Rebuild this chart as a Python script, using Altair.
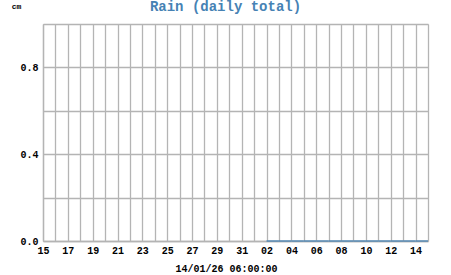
import altair as alt
import pandas as pd

# Domain: 15 Dec 2025 .. 15 Jan 2026 (daily)
domain_start = "2025-12-15"
domain_end = "2026-01-15"
grid_days = pd.date_range(domain_start, domain_end, freq="D").strftime("%Y-%m-%d").tolist()

# Rain observations (cm) available for these days
rain_days = ["2026-01-02", "2026-01-03", "2026-01-04", "2026-01-05", "2026-01-06",
             "2026-01-07", "2026-01-08", "2026-01-09", "2026-01-10", "2026-01-11",
             "2026-01-12", "2026-01-13", "2026-01-14"]
rain_ends = ["2026-01-03", "2026-01-04", "2026-01-05", "2026-01-06", "2026-01-07",
             "2026-01-08", "2026-01-09", "2026-01-10", "2026-01-11", "2026-01-12",
             "2026-01-13", "2026-01-14", "2026-01-15"]
rain_cm = [0, 0, 0, 0, 0, 0, 0, 0, 0, 0, 0, 0, 0]

y_ticks = [0, 0.2, 0.4, 0.6, 0.8, 1.0]
y_labelled = [0, 0.4, 0.8]

df = pd.DataFrame({"day": rain_days, "end": rain_ends, "rain": rain_cm})

FONT = "Liberation Mono"
GRID = "#b4b4b4"

x_enc = alt.X(
    "day:T",
    scale=alt.Scale(type="utc", domain=[domain_start, domain_end]),
    axis=alt.Axis(
        values=grid_days,
        labelExpr="((datum.value - datetime(2025,11,15)) / 86400000) % 2 < 0.5 && datum.value < datetime(2026,0,15) ? utcFormat(datum.value, '%d') : ''",
        ticks=False,
        labelPadding=4,
        labelFont=FONT, labelFontSize=10, labelFontWeight="bold", labelColor="#000000",
        labelFlush=False, labelOverlap=False,
        grid=True, gridColor=GRID, gridWidth=1.3,
        domainColor=GRID, domainWidth=1.3,
        title="14/01/26 06:00:00",
        titleFont=FONT, titleFontSize=10, titleFontWeight="bold", titleColor="#000000",
        titleX=183, titleY=30, titleAnchor="middle", titleBaseline="alphabetic",
    ),
)

y_enc = alt.Y(
    "rain:Q",
    scale=alt.Scale(domain=[0, 1.0], nice=False),
    axis=alt.Axis(
        values=y_ticks,
        labelExpr="indexof([" + ",".join(str(v) for v in y_labelled) + "], datum.value) >= 0 ? format(datum.value, '.1f') : ''",
        ticks=False, labelPadding=5,
        labelFont=FONT, labelFontSize=10, labelFontWeight="bold", labelColor="#000000",
        grid=True, gridColor=GRID, gridWidth=1.3,
        domainColor=GRID, domainWidth=1.3,
        title="cm", titleAngle=0,
        titleFont=FONT, titleFontSize=8, titleFontWeight="bold", titleColor="#000000",
        titleX=-27, titleY=-16, titleAlign="center", titleBaseline="alphabetic",
    ),
)

chart = (
    alt.Chart(df)
    .mark_rule(color="#4682b4", strokeWidth=1.3)
    .encode(x=x_enc, x2="end:T", y=y_enc)
    .properties(
        width=385, height=217,
        title=alt.TitleParams(
            "Rain (daily total)", font=FONT, fontSize=14, fontWeight="bold",
            color="#4682b4", anchor="middle", dx=-10, offset=0, dy=23,
            baseline="alphabetic",
        ),
        autosize=alt.AutoSizeParams(type="none"),
        padding={"left": 43, "top": 24, "right": 23, "bottom": 34},
    )
    .configure_view(stroke=GRID, strokeWidth=1.3)
    .configure(background="#ffffff")
)

chart.save("out.html", embed_options={"renderer": "svg", "actions": False})
